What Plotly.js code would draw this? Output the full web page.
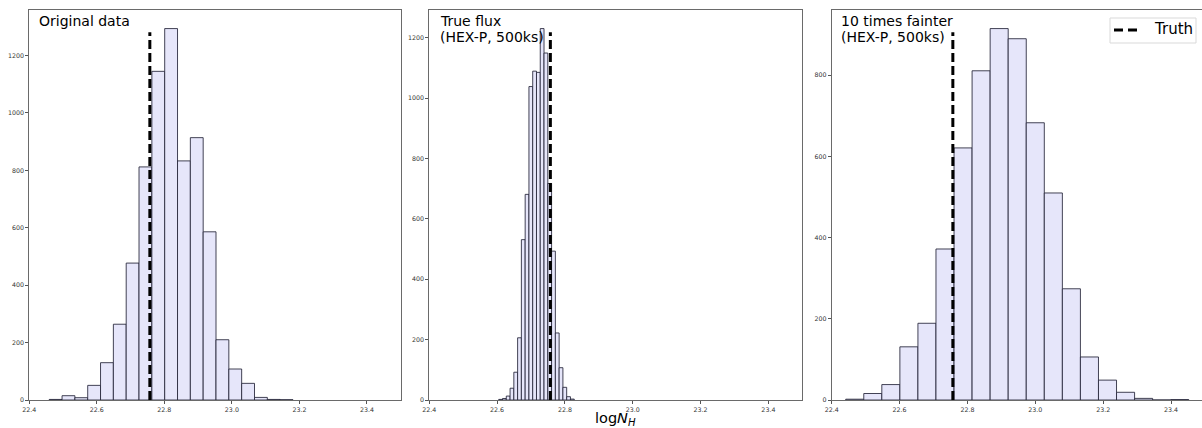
<!DOCTYPE html>
<html>
<head>
<meta charset="utf-8">
<script src="https://cdn.plot.ly/plotly-3.0.1.min.js"></script>
<style>
  html, body { margin: 0; padding: 0; background: #fff; }
  #chart { width: 1202px; height: 428px; }
</style>
</head>
<body>
<div id="chart"></div>
<script>
// ---------- data ----------
const X_TICKS = [22.4, 22.6, 22.8, 23.0, 23.2, 23.4];
const X_TICK_LABELS = ['22.4', '22.6', '22.8', '23.0', '23.2', '23.4'];
const TRUTH = 22.757;
const LEGEND_LABEL = 'Truth';
const X_TITLE = 'log<i>N</i><sub><i>H</i></sub>';

const PANEL_TITLES = [
  ['Original data'],
  ['True flux', '(HEX-P, 500ks)'],
  ['10 times fainter', '(HEX-P, 500ks)']
];

// Panel 1: original data
const ORIG_BIN_START = 22.459;
const ORIG_BIN_WIDTH = 0.0380;
const ORIG_COUNTS = [2, 15, 8, 51, 130, 264, 477, 812, 1145, 1294, 833, 914, 586, 210, 108, 58, 9, 2, 1];

// Panel 2: true flux (HEX-P, 500ks)
const TRUE_BIN_START = 22.6048;
const TRUE_BIN_WIDTH = 0.01113;
const TRUE_COUNTS = [2, 5, 13, 39, 92, 206, 531, 681, 1038, 1089, 1085, 1230, 1149, 717, 493, 222, 107, 42, 11, 3];

// Panel 3: 10 times fainter (HEX-P, 500ks)
const FAINT_BIN_START = 22.4413;
const FAINT_BIN_WIDTH = 0.0532;
const FAINT_COUNTS = [2, 16, 38, 131, 189, 372, 621, 811, 915, 890, 683, 510, 274, 106, 49, 19, 4, 0, 1];

const Y_TICKS_1 = [0, 200, 400, 600, 800, 1000, 1200];
const Y_TICKS_2 = [0, 200, 400, 600, 800, 1000, 1200];
const Y_TICKS_3 = [0, 200, 400, 600, 800];

// ---------- build ----------
const FONT = 'DejaVu Sans, Liberation Sans, sans-serif';
const W = 1202, H = 428;

function centers(start, width, counts) {
  return counts.map((_, i) => start + (i + 0.5) * width);
}

function barTrace(start, width, counts, ax) {
  return {
    type: 'bar',
    x: centers(start, width, counts),
    y: counts,
    width: width,
    xaxis: 'x' + ax,
    yaxis: 'y' + ax,
    marker: {
      color: '#e6e6fa',
      line: { color: 'rgba(35,35,55,0.85)', width: 1 }
    },
    showlegend: false,
    hoverinfo: 'x+y'
  };
}

const traces = [
  barTrace(ORIG_BIN_START, ORIG_BIN_WIDTH, ORIG_COUNTS, ''),
  barTrace(TRUE_BIN_START, TRUE_BIN_WIDTH, TRUE_COUNTS, '2'),
  barTrace(FAINT_BIN_START, FAINT_BIN_WIDTH, FAINT_COUNTS, '3')
];

// panel geometry in px
const PX = [[29.3, 400.7], [429.3, 802.3], [831.7, 1201.6]];
const PY = [10, 400]; // top, bottom
const yDom = [1 - PY[1] / H, 1 - PY[0] / H];

function xAxis(i, range) {
  return {
    domain: [PX[i][0] / W, PX[i][1] / W],
    range: range,
    tickvals: X_TICKS,
    ticktext: X_TICK_LABELS,
    ticks: 'outside', ticklen: 3, tickwidth: 1, tickcolor: '#555',
    tickfont: { family: FONT, size: 6.3, color: '#333' },
    showline: true, linecolor: '#6a6a6a', linewidth: 1, mirror: true,
    showgrid: false, zeroline: false, fixedrange: true,
    anchor: i === 0 ? 'y' : 'y' + (i + 1)
  };
}
function yAxis(i, range, ticks) {
  return {
    domain: yDom,
    range: range,
    tickvals: ticks,
    ticktext: ticks.map(String),
    ticks: 'outside', ticklen: 3, tickwidth: 1, tickcolor: '#555',
    tickfont: { family: FONT, size: 6.3, color: '#333' },
    showline: true, linecolor: '#6a6a6a', linewidth: 1, mirror: true,
    showgrid: false, zeroline: false, fixedrange: true,
    anchor: i === 0 ? 'x' : 'x' + (i + 1)
  };
}

const maxOf = a => Math.max.apply(null, a);

function truthShape(ax) {
  return {
    type: 'line',
    xref: 'x' + ax, yref: 'y' + ax + ' domain',
    x0: TRUTH, x1: TRUTH, y0: 0, y1: 0.943,
    line: { color: '#000', width: 3, dash: '9px,4px' },
    layer: 'above'
  };
}

const annotations = [];
const TITLE_X = [37, 437.7, 839.3];
const LINE_Y = [20.7, 36.6];
PANEL_TITLES.forEach((lines, i) => {
  lines.forEach((t, j) => {
    annotations.push({
      xref: 'paper', yref: 'paper',
      x: TITLE_X[i] / W, y: 1 - LINE_Y[j] / H,
      xanchor: 'left', yanchor: 'middle',
      text: t, showarrow: false,
      font: { family: FONT, size: 14, color: '#000' }
    });
  });
});

// shared x-axis title, centred under the middle panel
annotations.push({
  xref: 'x2 domain', yref: 'paper',
  x: 0.5, y: -2 / H,
  xanchor: 'center', yanchor: 'bottom',
  text: X_TITLE, showarrow: false,
  font: { family: FONT, size: 14.5, color: '#000' }
});

// legend box (drawn manually to match the reference's compact box)
const LG = { x0: 1110, x1: 1196, y0: 18, y1: 43 };
const legendShapes = [
  {
    type: 'rect', xref: 'paper', yref: 'paper',
    x0: LG.x0 / W, x1: LG.x1 / W, y0: 1 - LG.y1 / H, y1: 1 - LG.y0 / H,
    line: { color: '#d9d9d9', width: 1 }, fillcolor: 'rgba(255,255,255,0.85)', layer: 'above'
  },
  {
    type: 'line', xref: 'paper', yref: 'paper',
    x0: 1114 / W, x1: 1141 / W, y0: 1 - 30 / H, y1: 1 - 30 / H,
    line: { color: '#000', width: 3, dash: '9px,5px' }, layer: 'above'
  }
];
annotations.push({
  xref: 'paper', yref: 'paper',
  x: 1152 / W, y: 1 - 29.5 / H,
  xanchor: 'left', yanchor: 'middle',
  text: LEGEND_LABEL, showarrow: false,
  font: { family: FONT, size: 15, color: '#000' }
});

const layout = {
  width: W, height: H,
  margin: { l: 0, r: 0, t: 0, b: 0 },
  paper_bgcolor: '#fff', plot_bgcolor: '#fff',
  font: { family: FONT },
  bargap: 0,
  showlegend: false,
  xaxis: xAxis(0, [22.4, 23.5]),
  yaxis: yAxis(0, [0, maxOf(ORIG_COUNTS) * 1.05], Y_TICKS_1),
  xaxis2: xAxis(1, [22.4, 23.5]),
  yaxis2: yAxis(1, [0, maxOf(TRUE_COUNTS) * 1.05], Y_TICKS_2),
  xaxis3: xAxis(2, [22.4, 23.49]),
  yaxis3: yAxis(2, [0, maxOf(FAINT_COUNTS) * 1.05], Y_TICKS_3),
  shapes: [truthShape(''), truthShape('2'), truthShape('3')].concat(legendShapes),
  annotations: annotations
};

Plotly.newPlot('chart', traces, layout, { displayModeBar: false, staticPlot: true });
</script>
</body>
</html>
